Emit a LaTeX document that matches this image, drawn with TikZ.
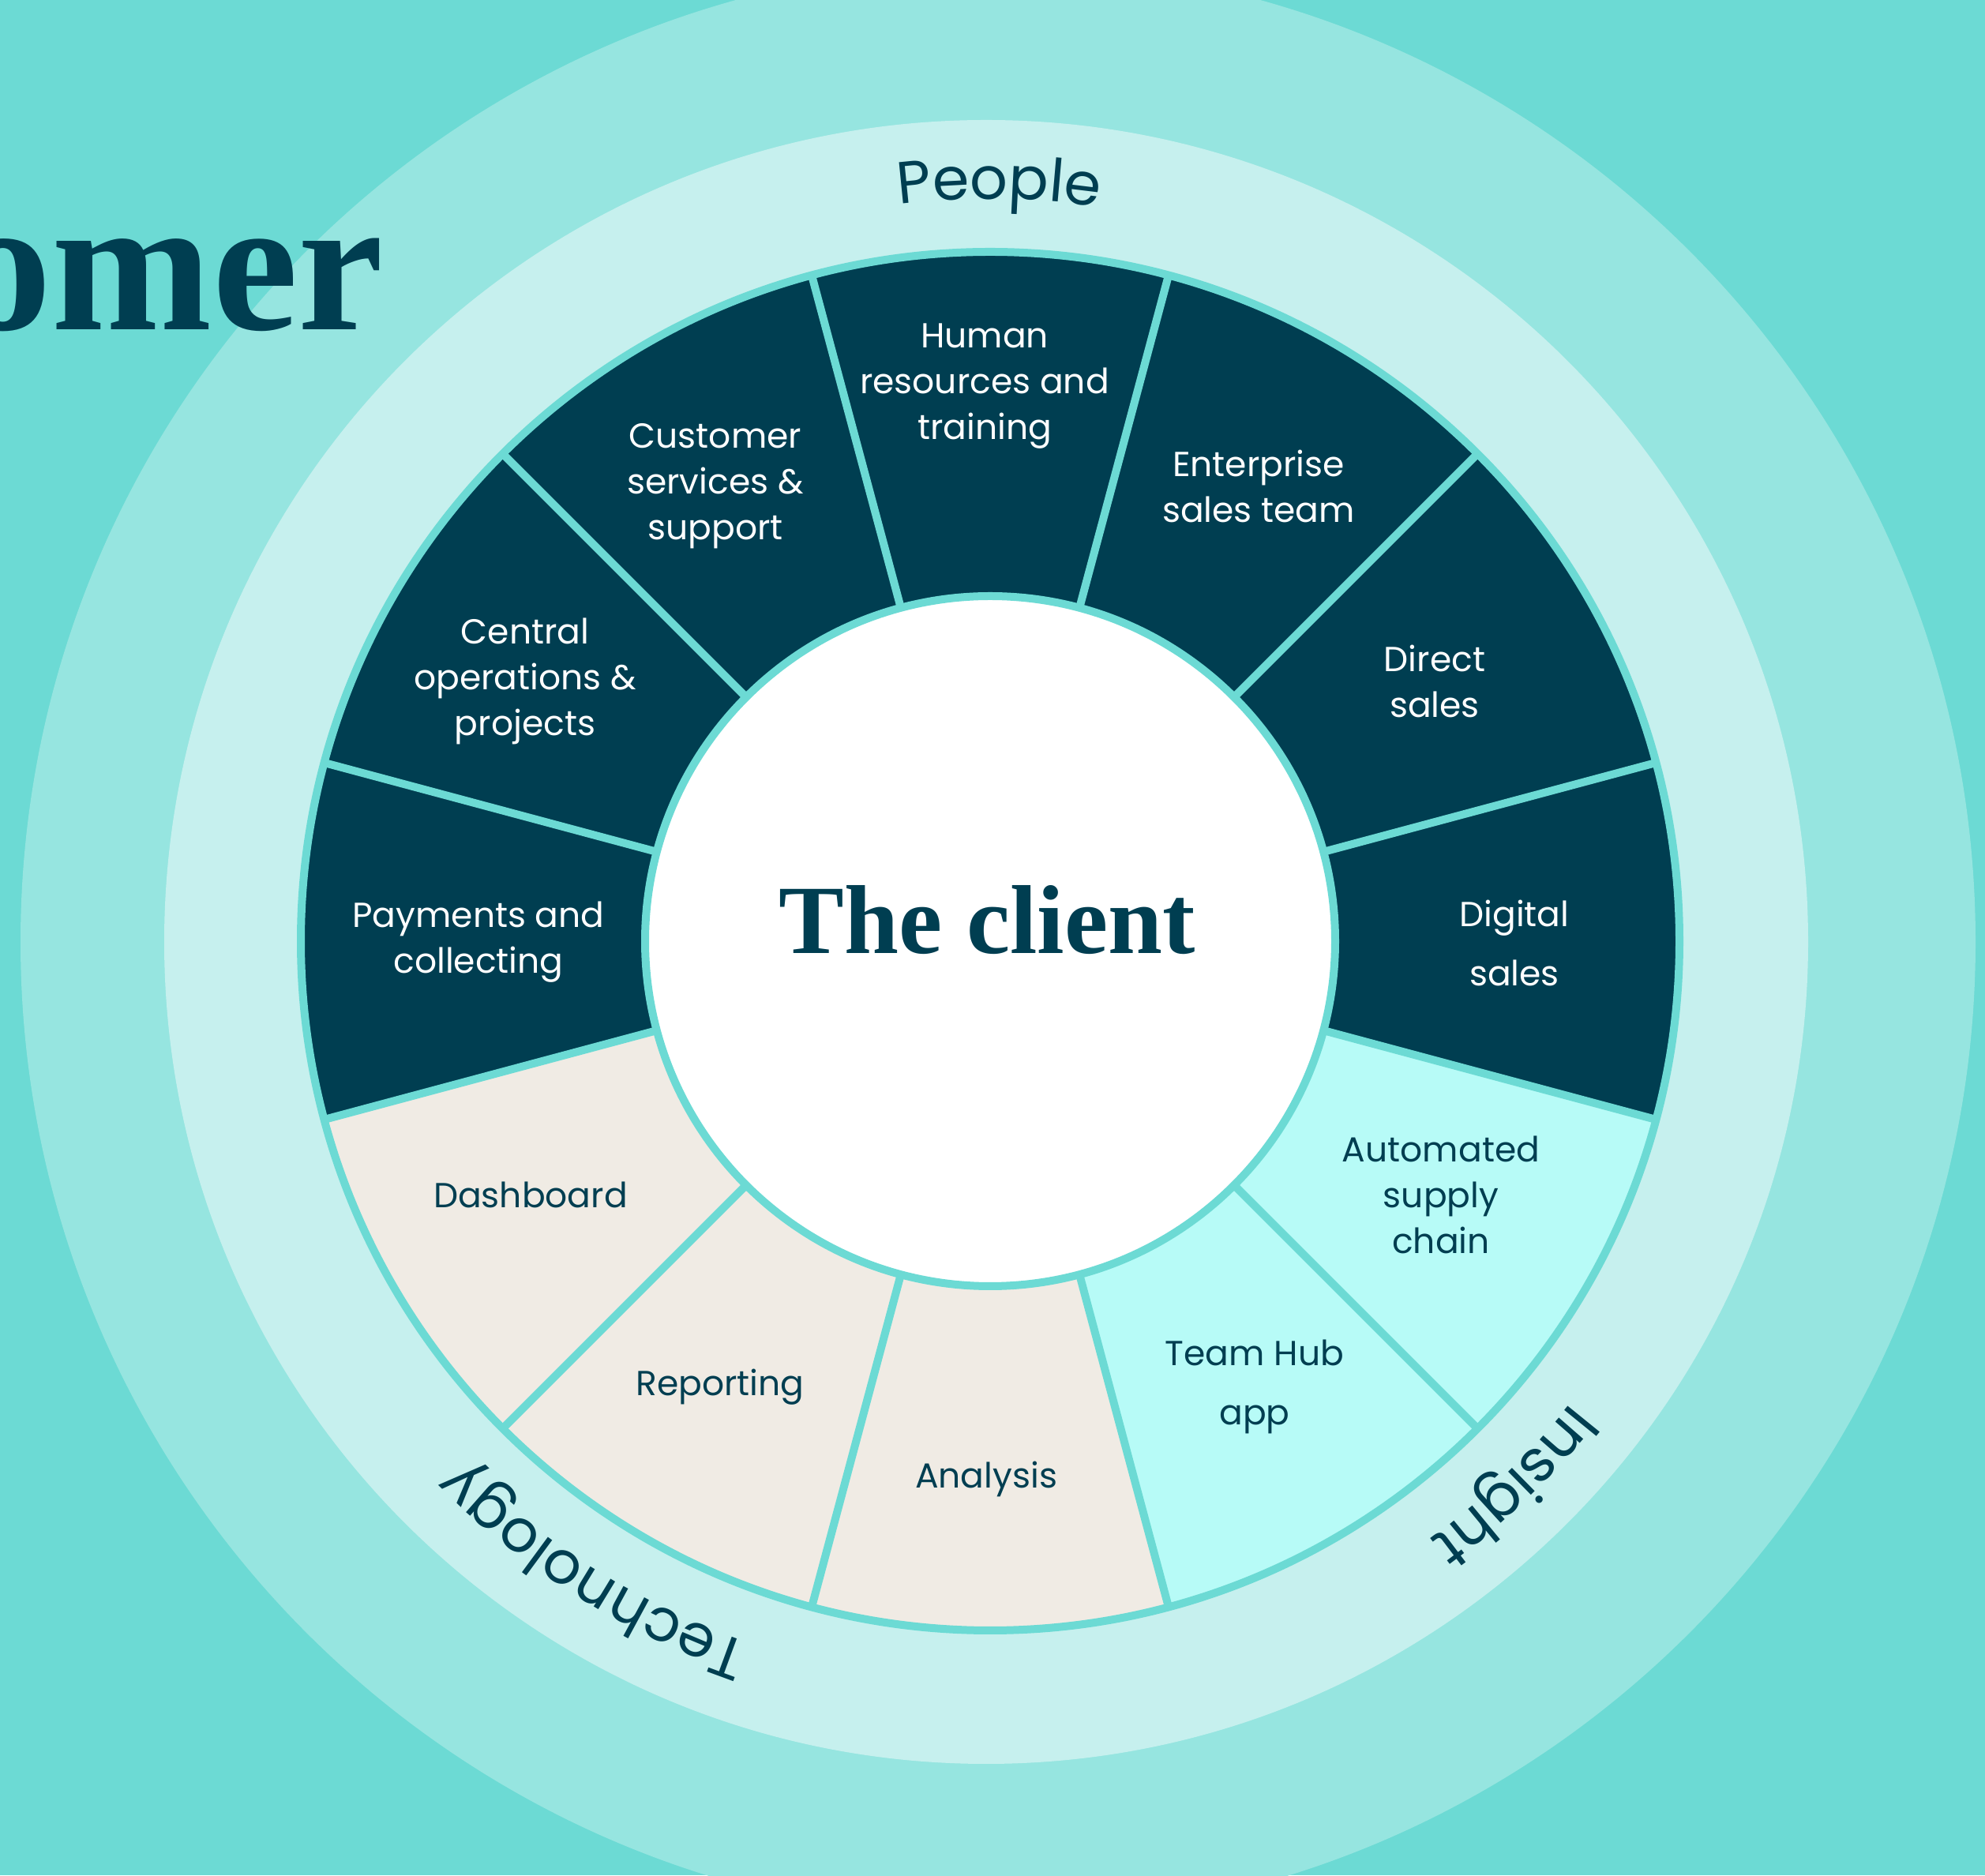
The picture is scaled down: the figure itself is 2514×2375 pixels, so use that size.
\documentclass[tikz,border=0pt]{standalone}
\usepackage{fontspec}
\usetikzlibrary{decorations.text}

\newfontfamily\sansbody{Poppins}
\newfontfamily\serifdisp{Liberation Serif}

\definecolor{bgteal}{HTML}{6CDAD4}
\definecolor{haloouter}{HTML}{96E5E0}
\definecolor{halomid}{HTML}{C6F0EE}
\definecolor{ink}{HTML}{003E51}
\definecolor{beige}{HTML}{F0EBE4}
\definecolor{aqua}{HTML}{B7FBF7}

\tikzset{
  sep/.style={draw=bgteal, line width=10pt},
  seglabel/.style={font=\sansbody\fontsize{44}{58}\selectfont, align=center, inner sep=0pt},
  widelabel/.style={font=\sansbody\fontsize{44}{75}\selectfont, align=center, inner sep=0pt},
  ondark/.style={text=white},
  onlight/.style={text=ink},
}

\newcommand{\ringfont}{\sansbody\fontsize{75}{90}\selectfont\color{ink}}

\begin{document}
\begin{tikzpicture}[x=1pt,y=1pt]
\useasboundingbox (0,0) rectangle (2514,2375);
\fill[bgteal] (0,0) rectangle (2514,2375);

\begin{scope}
  \clip (0,0) rectangle (2514,2375);
  % halo discs
  \fill[haloouter] (1264,1182) circle[radius=1238];
  \fill[halomid] (1249,1182) circle[radius=1041];

  % partly cut heading word
  \node[anchor=base east, inner sep=0pt, text=ink,
        font=\serifdisp\bfseries\fontsize{244}{244}\selectfont] (heading) at (486,1957) {omer};

  % segmented ring
  \begin{scope}[shift={(1254,1183)}]
    \fill[ink] (-15:873) arc[start angle=-15, end angle=195, radius=873]
      -- (195:437) arc[start angle=195, end angle=-15, radius=437] -- cycle;
    \fill[beige] (195:873) arc[start angle=195, end angle=285, radius=873]
      -- (285:437) arc[start angle=285, end angle=195, radius=437] -- cycle;
    \fill[aqua] (285:873) arc[start angle=285, end angle=345, radius=873]
      -- (345:437) arc[start angle=345, end angle=285, radius=437] -- cycle;
    \fill[white] (0,0) circle[radius=437];
    \foreach \a in {15,45,...,345}
      \draw[sep] (\a:437) -- (\a:873);
    \draw[sep] (0,0) circle[radius=873];
    \draw[sep] (0,0) circle[radius=437];
  \end{scope}
\end{scope}

% centre title
\node[anchor=base, inner sep=0pt, text=ink,
      font=\serifdisp\bfseries\fontsize{124}{124}\selectfont] (client) at (1250,1167) {The client};

% segment labels
\node[seglabel, ondark] (hr) at (1247,1886) {Human\\resources and\\training};
\node[seglabel, ondark] (css) at (906,1759) {Customer\\services \&\\support};
\node[seglabel, ondark] (cop) at (665,1512) {Central\\operations \&\\projects};
\node[seglabel, ondark] (pay) at (606,1182) {Payments and\\collecting};
\node[seglabel, onlight] (dash) at (672,862) {Dashboard};
\node[seglabel, onlight] (rep) at (912,618) {Reporting};
\node[seglabel, onlight] (ana) at (1249,502) {Analysis};
\node[widelabel, onlight] (hub) at (1589,619) {Team Hub\\app};
\node[seglabel, onlight] (asc) at (1825,862) {Automated\\supply\\chain};
\node[widelabel, ondark] (dig) at (1918,1181) {Digital\\sales};
\node[seglabel, ondark] (dir) at (1817,1512) {Direct\\sales};
\node[seglabel, ondark] (ent) at (1594,1759) {Enterprise\\sales team};

% curved group labels on the pale band
\path[decorate, decoration={text along path, text align=center,
      text={|\ringfont|People}}]
  (1254,1183) ++(114.3:940) arc[start angle=114.3, end angle=64.3, radius=940];
\path[decorate, decoration={text along path, text align=center,
      text={|\ringfont|Technology}}]
  (1254,1183) ++(267.8:940) arc[start angle=267.8, end angle=207.8, radius=940];
\path[decorate, decoration={text along path, text align=center,
      text={|\ringfont|Insight}}]
  (1254,1183) ++(338.9:940) arc[start angle=338.9, end angle=288.9, radius=940];
\end{tikzpicture}
\end{document}
